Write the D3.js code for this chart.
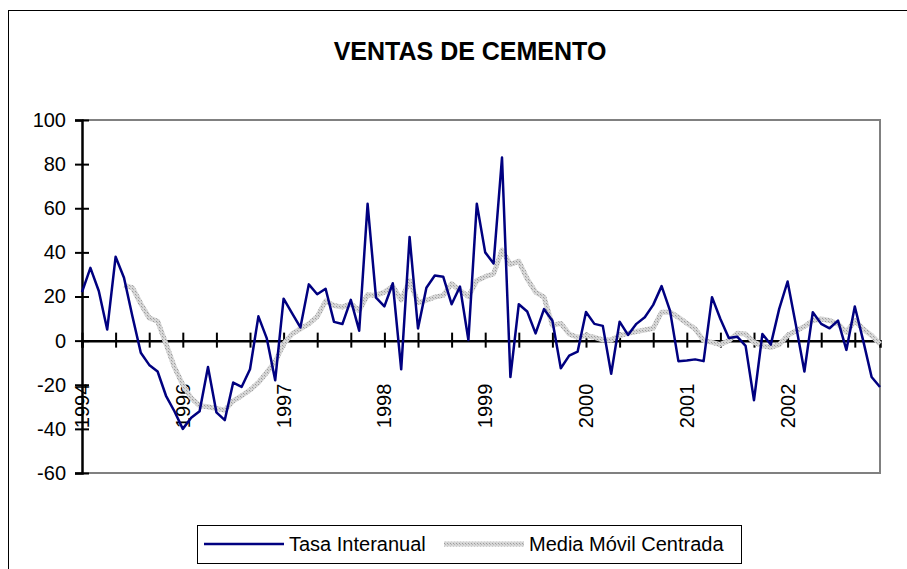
<!DOCTYPE html>
<html>
<head>
<meta charset="utf-8">
<script src="https://cdn.jsdelivr.net/npm/d3@7"></script>
<style>
  body { margin: 0; background: #fff; }
  svg { display: block; font-family: "Liberation Sans", Arial, sans-serif; }
</style>
</head>
<body>
<svg id="chart" width="907" height="569"></svg>
<script>
// monthly series, 96 points
const tasa = [
  22, 33, 22.5, 5, 38, 28.5, 11, -5.5, -11, -14, -25, -32,
  -40, -35, -32, -12, -32.5, -36, -19, -21, -13, 11, 1, -18,
  19, 12.5, 6, 25.5, 21, 23.5, 8.5, 7.5, 18.5, 4.5, 62, 19.5,
  15.5, 26, -13, 47, 5.5, 24, 29.5, 29, 16.5, 24.5, 0.3, 62,
  40, 35, 83, -16.5, 16.5, 13.2, 3.3, 14.3, 9, -12.5, -6.8, -5,
  13, 7.6, 6.7, -15, 8.6, 2.6, 7.6, 10.6, 16.2, 24.7, 13.6, -9.3,
  -9, -8.5, -9.3, 19.7, 9.8, 1.2, 1.8, -2.4, -27, 3, -1.8, 14.4,
  26.8, 6.8, -14, 12.9, 7.6, 5.6, 9.1, -4.2, 15.5, 0, -16.5, -21
];
const media = [
  null, null, null, null, null, 25, 24, 16.7, 10.3, 8.8, -1.5, -12,
  -20, -26, -29.5, -30, -30.8, -31.5, -27.3, -25, -22.4, -19, -14.4, -9.5,
  -1.5, 3, 5.3, 7.6, 10.9, 17.9, 15.9, 15.2, 16.7, 13.6, 20.8, 20.5,
  22, 24.6, 18.5, 27.1, 17.2, 18.3, 19.7, 20.5, 25.8, 22.7, 20, 27.2,
  29, 30.3, 41, 34.5, 36, 28, 22, 19.7, 7, 7.8, 3, 1.5,
  2.3, 1.5, 0.3, 0.3, 2.3, 3.3, 4.1, 4.8, 5.6, 12.9, 12.9, 10.6,
  7.9, 5.3, 0, -0.8, -1.8, 0, 3.3, 3, -0.8, -2.3, -3, -1.8,
  2.3, 4.5, 6.4, 9.1, 9.8, 9.1, 7.6, 3.8, 9.1, 5.3, 2.3, -1.5
];
const yearLabels = ['1994', '1996', '1997', '1998', '1999', '2000', '2001', '2002'];
const yearIndex = [0, 12, 24, 36, 48, 60, 72, 84];
const yTicks = [-60, -40, -20, 0, 20, 40, 60, 80, 100];

const svg = d3.select('#chart');
const plot = { left: 82, right: 880, top: 120, bottom: 473 };
const FONT = 'Liberation Sans, Arial, sans-serif';

// hatched stroke for the moving average
const defs = svg.append('defs');
const pat = defs.append('pattern')
  .attr('id', 'hatch')
  .attr('patternUnits', 'userSpaceOnUse')
  .attr('width', 3).attr('height', 3);
pat.append('rect').attr('width', 3).attr('height', 3).attr('fill', '#d6d6d6');
pat.append('rect').attr('x', 0).attr('y', 0).attr('width', 1).attr('height', 1).attr('fill', '#9c9c9c');
pat.append('rect').attr('x', 1).attr('y', 1).attr('width', 1).attr('height', 1).attr('fill', '#b4b4b4');

// chart frame
svg.append('rect')
  .attr('x', 8.5).attr('y', 10.5)
  .attr('width', 1000).attr('height', 1000)
  .attr('fill', 'none').attr('stroke', '#000').attr('stroke-width', 1);

svg.append('text')
  .attr('x', 470).attr('y', 60)
  .attr('text-anchor', 'middle')
  .attr('font-size', 25).attr('font-weight', 'bold')
  .text('VENTAS DE CEMENTO');

const x = d3.scaleLinear()
  .domain([0, tasa.length - 1])
  .range([plot.left, plot.right]);

const y = d3.scaleLinear()
  .domain([-60, 100])
  .range([plot.bottom, plot.top]);

// plot area border (grey)
svg.append('path')
  .attr('d', `M${plot.left},${plot.top}H${plot.right}V${plot.bottom}H${plot.left}`)
  .attr('fill', 'none').attr('stroke', '#808080').attr('stroke-width', 2);

// y axis
const yAxis = svg.append('g')
  .attr('transform', `translate(${plot.left},0)`)
  .call(d3.axisLeft(y).tickValues(yTicks).tickSize(7).tickPadding(9).tickFormat(d => String(d)));
yAxis.select('.domain').attr('stroke-width', 2.5);
yAxis.selectAll('.tick line').attr('x1', 7).attr('stroke-width', 2);
yAxis.selectAll('.tick text')
  .attr('font-size', 20).attr('font-family', FONT)
  .attr('fill', '#000');

// x axis at zero
const xTickIdx = d3.range(0, tasa.length, 4);
const xAxis = svg.append('g')
  .attr('transform', `translate(0,${y(0)})`)
  .call(d3.axisBottom(x).tickValues(xTickIdx).tickSize(7).tickFormat(''));
xAxis.select('.domain').attr('stroke-width', 2.5);
xAxis.selectAll('.tick line').attr('y1', -8).attr('stroke-width', 2);

xAxis.selectAll('.year')
  .data(yearIndex)
  .enter().append('text')
  .attr('class', 'year')
  .attr('transform', d => `translate(${x(d) + 7},43) rotate(-90)`)
  .attr('text-anchor', 'end')
  .attr('font-size', 20)
  .attr('font-family', FONT)
  .attr('fill', '#000')
  .text((d, i) => yearLabels[i]);

// series
const line = d3.line()
  .defined(d => d != null)
  .x((d, i) => x(i))
  .y(d => y(d));

svg.append('path')
  .datum(media)
  .attr('d', line)
  .attr('fill', 'none')
  .attr('stroke', 'url(#hatch)')
  .attr('stroke-width', 5)
  .attr('stroke-linejoin', 'round');

svg.append('path')
  .datum(tasa)
  .attr('d', line)
  .attr('fill', 'none')
  .attr('stroke', '#000080')
  .attr('stroke-width', 2.5)
  .attr('stroke-linejoin', 'round');

// legend
const lg = svg.append('g');
lg.append('rect')
  .attr('x', 197.5).attr('y', 525.5)
  .attr('width', 544).attr('height', 38)
  .attr('fill', '#fff').attr('stroke', '#000').attr('stroke-width', 1);
lg.append('line')
  .attr('x1', 204).attr('x2', 284).attr('y1', 544).attr('y2', 544)
  .attr('stroke', '#000080').attr('stroke-width', 2.5);
lg.append('text')
  .attr('x', 289).attr('y', 551)
  .attr('font-size', 20)
  .text('Tasa Interanual');
lg.append('line')
  .attr('x1', 444).attr('x2', 524).attr('y1', 544).attr('y2', 544)
  .attr('stroke', 'url(#hatch)').attr('stroke-width', 5);
lg.append('text')
  .attr('x', 529).attr('y', 551)
  .attr('font-size', 20)
  .text('Media Móvil Centrada');
</script>
</body>
</html>
